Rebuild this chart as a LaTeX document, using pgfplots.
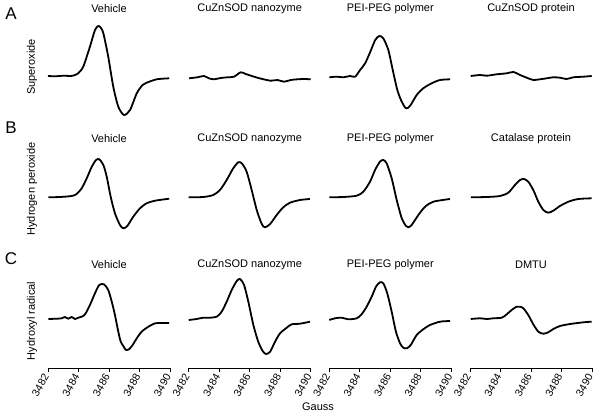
\documentclass[border=0pt]{standalone}
\usepackage{pgfplots}
\pgfplotsset{compat=1.18}
\usepackage{fontspec}
\setmainfont{Liberation Sans}

\pgfplotsset{
  panel/.style={x=15.25pt, y=1pt, xmin=3482, xmax=3490, clip=false, no markers,
    title style={at={(0.5,1)}, anchor=center, yshift=0pt, font=\fontsize{11}{13}\selectfont},
    every axis plot post/.append style={black, line width=1.8pt, smooth, tension=0.45, line join=round}},
  rowA/.style={panel, hide axis, ymin=-122, ymax=-15},
  rowB/.style={panel, hide axis, ymin=-233, ymax=-145},
  rowC/.style={panel, ymin=-368, ymax=-271,
    axis x line*=bottom, axis y line=none, axis line style={line width=0.9pt},
    xtick={3482,3484,3486,3488,3490}, tick align=outside, major tick length=4pt,
    tick style={line width=0.9pt, black},
    /pgf/number format/1000 sep={}, /pgf/number format/assume math mode=true,
    xticklabel style={rotate=60, anchor=east, font=\fontsize{10.5}{12}\selectfont}},
}

\begin{document}
\begin{tikzpicture}
\useasboundingbox (0,0) rectangle (601pt,-417pt);

% ---- row A: superoxide
\begin{axis}[rowA, at={(48pt,-122pt)}, anchor=south west, title={Vehicle}]
\addplot coordinates {(3482.0,-76) (3482.5,-76.3) (3483.0,-75.7) (3483.5,-76) (3483.77,-75) (3484.0,-73) (3484.31,-66.7) (3484.75,-46.7) (3485.08,-30) (3485.30,-26) (3485.45,-27.5) (3485.63,-33.3) (3485.95,-56.7) (3486.28,-86.7) (3486.61,-106.7) (3486.98,-115) (3487.38,-110) (3487.82,-93.3) (3488.2,-85) (3488.47,-82.7) (3489.13,-79.3) (3489.95,-78.3)};
\end{axis}
\begin{axis}[rowA, at={(188.7pt,-122pt)}, anchor=south west, title={CuZnSOD nanozyme}]
\addplot coordinates {(3482.02,-78.3) (3482.57,-77.3) (3483.0,-76) (3483.33,-78.3) (3483.66,-79.3) (3484.10,-78) (3484.54,-77.3) (3484.97,-76.7) (3485.41,-72.3) (3485.74,-74) (3486.28,-76.7) (3486.83,-79) (3487.38,-80.7) (3487.82,-80) (3488.25,-81.7) (3488.69,-80) (3489.13,-79.3) (3489.56,-79) (3490.0,-79.3)};
\end{axis}
\begin{axis}[rowA, at={(329.3pt,-122pt)}, anchor=south west, title={PEI-PEG polymer}]
\addplot coordinates {(3482.0,-77.3) (3482.49,-76.7) (3482.92,-77.3) (3483.36,-76) (3483.69,-76.7) (3484.02,-70) (3484.35,-63.3) (3484.69,-51.7) (3485.01,-40) (3485.28,-36) (3485.54,-38.3) (3485.87,-50) (3486.16,-70) (3486.46,-90) (3486.75,-101.7) (3487.03,-108.3) (3487.29,-106) (3487.73,-95) (3488.16,-88.3) (3488.71,-83.3) (3489.26,-80) (3489.92,-79.3)};
\end{axis}
\begin{axis}[rowA, at={(470pt,-122pt)}, anchor=south west, title={CuZnSOD protein}]
\addplot coordinates {(3482.05,-76) (3482.66,-75) (3483.10,-75.7) (3483.75,-74.3) (3484.41,-73.3) (3484.84,-72) (3485.28,-75) (3485.72,-77.7) (3486.15,-80) (3486.59,-79.3) (3487.03,-78.3) (3487.46,-77.3) (3487.90,-77.7) (3488.34,-79) (3488.77,-77.3) (3489.43,-76.7) (3489.98,-76)};
\end{axis}

% ---- row B: hydrogen peroxide
\begin{axis}[rowB, at={(48pt,-233pt)}, anchor=south west, title={Vehicle}]
\addplot coordinates {(3482.02,-197.3) (3482.79,-197) (3483.55,-196) (3483.88,-194) (3484.21,-188.3) (3484.54,-178.3) (3484.87,-166.7) (3485.15,-160) (3485.36,-159.3) (3485.63,-165) (3485.85,-176.7) (3486.11,-196.7) (3486.39,-213.3) (3486.72,-225) (3486.94,-228.3) (3487.20,-226) (3487.59,-216.7) (3488.03,-208.3) (3488.47,-203.3) (3489.02,-200.7) (3489.95,-198.7)};
\end{axis}
\begin{axis}[rowB, at={(188.7pt,-233pt)}, anchor=south west, title={CuZnSOD nanozyme}]
\addplot coordinates {(3482.0,-197.3) (3482.96,-197) (3483.61,-195) (3484.05,-190) (3484.49,-180) (3484.92,-168.3) (3485.25,-162.3) (3485.48,-163.3) (3485.80,-171.7) (3486.13,-190) (3486.46,-210) (3486.79,-224) (3487.0,-227.3) (3487.34,-224) (3487.77,-215) (3488.20,-207.3) (3488.64,-202.7) (3489.30,-200) (3489.95,-199)};
\end{axis}
\begin{axis}[rowB, at={(329.3pt,-233pt)}, anchor=south west, title={PEI-PEG polymer}]
\addplot coordinates {(3482.0,-197.3) (3482.92,-197) (3483.80,-195.7) (3484.23,-191.7) (3484.67,-181.7) (3485.0,-170) (3485.32,-161.7) (3485.54,-160) (3485.76,-163.3) (3486.09,-178.3) (3486.42,-200) (3486.75,-218.3) (3487.03,-226) (3487.18,-227.3) (3487.40,-225) (3487.84,-215) (3488.28,-206.7) (3488.82,-201.7) (3489.91,-199)};
\end{axis}
\begin{axis}[rowB, at={(470pt,-233pt)}, anchor=south west, title={Catalase protein}]
\addplot coordinates {(3482.05,-197.3) (3483.10,-197) (3483.97,-196) (3484.51,-192.7) (3484.95,-185) (3485.28,-180) (3485.54,-179) (3485.82,-181.7) (3486.15,-190) (3486.48,-201.7) (3486.81,-210) (3487.13,-212.7) (3487.46,-210.7) (3487.90,-206) (3488.45,-201.7) (3489.10,-199) (3489.98,-198.3)};
\end{axis}

% ---- row C: hydroxyl radical
\begin{axis}[rowC, at={(48pt,-368pt)}, anchor=south west, title={Vehicle}]
\addplot coordinates {(3482.02,-319) (3482.57,-318.7) (3482.90,-318.3) (3483.11,-317) (3483.33,-318.7) (3483.55,-317) (3483.77,-319) (3483.99,-317.7) (3484.21,-316.7) (3484.43,-314.3) (3484.75,-305) (3485.08,-293.3) (3485.36,-285) (3485.67,-284.3) (3485.95,-290) (3486.18,-301.7) (3486.39,-315) (3486.61,-331.7) (3486.77,-341.7) (3486.94,-346) (3487.11,-350) (3487.33,-349) (3487.55,-345) (3487.82,-338.3) (3488.14,-331.7) (3488.58,-326.7) (3489.02,-323.3) (3489.46,-323) (3489.95,-323)};
\end{axis}
\begin{axis}[rowC, at={(188.7pt,-368pt)}, anchor=south west, title={CuZnSOD nanozyme}]
\addplot coordinates {(3482.0,-320) (3482.52,-319) (3482.96,-317.7) (3483.40,-317.7) (3483.84,-316.7) (3484.16,-311.7) (3484.49,-301.7) (3484.82,-290) (3485.15,-281) (3485.37,-279) (3485.63,-285) (3485.91,-301.7) (3486.24,-325) (3486.56,-341.7) (3486.85,-351) (3487.07,-354) (3487.34,-351.7) (3487.66,-341.7) (3487.99,-333.3) (3488.43,-327.7) (3488.75,-324.3) (3489.30,-323.7) (3489.95,-321.7)};
\end{axis}
\begin{axis}[rowC, at={(329.3pt,-368pt)}, anchor=south west, title={PEI-PEG polymer}]
\addplot coordinates {(3482.0,-320) (3482.37,-318.3) (3482.81,-317.7) (3483.25,-319.3) (3483.80,-318.3) (3484.12,-314.3) (3484.45,-306.7) (3484.78,-296.7) (3485.06,-286.7) (3485.32,-282.3) (3485.54,-283.3) (3485.80,-293.3) (3486.09,-311.7) (3486.37,-331.7) (3486.64,-343.3) (3486.85,-347.7) (3487.08,-348.3) (3487.34,-345) (3487.73,-335) (3488.16,-329.3) (3488.60,-325) (3489.26,-321.7) (3489.92,-321)};
\end{axis}
\begin{axis}[rowC, at={(470pt,-368pt)}, anchor=south west, title={DMTU}]
\addplot coordinates {(3482.05,-319) (3482.66,-318.3) (3483.10,-319) (3483.53,-318.3) (3484.08,-317.7) (3484.41,-314.3) (3484.73,-310) (3485.06,-306.7) (3485.28,-306.7) (3485.50,-308.3) (3485.82,-315) (3486.15,-324.3) (3486.48,-331.7) (3486.81,-333.7) (3487.13,-332.3) (3487.46,-329) (3487.90,-326) (3488.56,-324) (3489.21,-322.7) (3489.65,-322) (3489.98,-321.7)};
\end{axis}

% ---- panel letters, row labels, x label
\node[font=\fontsize{17}{19}\selectfont] at (11pt,-14pt) {A};
\node[font=\fontsize{17}{19}\selectfont] at (11pt,-128pt) {B};
\node[font=\fontsize{17}{19}\selectfont] at (11pt,-259pt) {C};
\node[rotate=90, font=\fontsize{11}{13}\selectfont] at (32pt,-67pt) {Superoxide};
\node[rotate=90, font=\fontsize{11}{13}\selectfont] at (32pt,-189pt) {Hydrogen peroxide};
\node[rotate=90, font=\fontsize{11}{13}\selectfont] at (32pt,-321pt) {Hydroxyl radical};
\node[font=\fontsize{11}{13}\selectfont] at (318pt,-407pt) {Gauss};
\end{tikzpicture}
\end{document}
